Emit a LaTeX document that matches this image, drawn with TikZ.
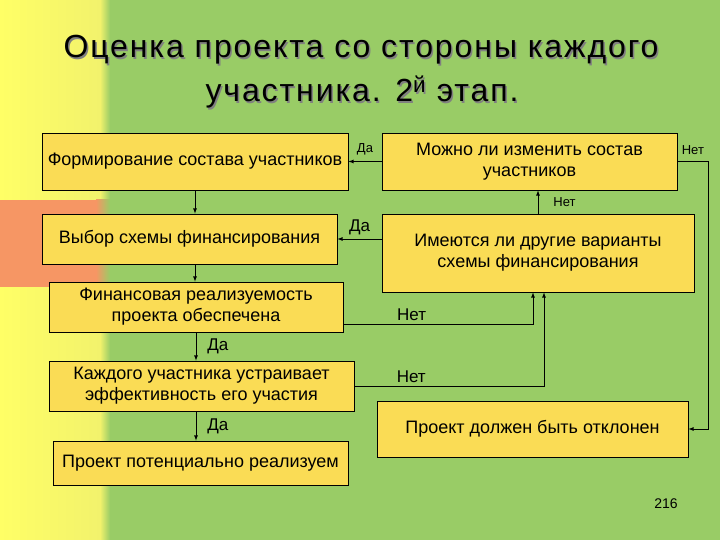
\documentclass[tikz,border=0pt]{standalone}
\usepackage{fontspec}
\setmainfont{Liberation Sans}
\newfontfamily\titlefont[LetterSpace=6]{Liberation Sans}
\usepackage{tikz}

\definecolor{slidegreen}{RGB}{153,204,102}
\definecolor{stripyellow}{RGB}{255,255,102}
\definecolor{stripyellowb}{RGB}{242,242,108}
\definecolor{barorange}{RGB}{246,150,100}
\definecolor{boxfill}{RGB}{250,220,85}

\tikzset{
  stepbox/.style={draw, fill=boxfill, line width=0.8pt, align=center, inner sep=2pt,
    font=\fontsize{18}{21}\selectfont},
  answ/.style={font=\fontsize{17}{20}\selectfont, inner sep=1pt},
  answsmall/.style={font=\fontsize{13}{15}\selectfont, inner sep=1pt},
  link/.style={-latex, line width=0.8pt},
  heading/.style={anchor=base, font=\titlefont\fontsize{32}{40}\selectfont},
}

\begin{document}
\begin{tikzpicture}[x=1pt, y=-1pt]
        \useasboundingbox (0,0) rectangle (720,540);

        % background of the slide
        \fill[slidegreen] (0,0) rectangle (720,540);
        \shade[left color=stripyellow, right color=stripyellowb] (0,0) rectangle (100,540);
        \shade[left color=stripyellowb, right color=slidegreen] (100,0) rectangle (110,540);
        \fill[barorange] (0,200) rectangle (96,287);
        \shade[left color=barorange, right color=slidegreen] (96,200) rectangle (110,287);

        % title with its shadow
        \node[heading, gray] at (362.5,59.5) {Оценка проекта со стороны каждого};
        \node[heading] (title1) at (361,58) {Оценка проекта со стороны каждого};
        \node[heading, gray] at (363.5,103.5) {участника. 2\textsuperscript{й} этап.};
        \node[heading] (title2) at (362,102) {участника. 2\textsuperscript{й} этап.};

        % left column
        \node[stepbox, minimum width=306pt, minimum height=57pt] (formir) at (195,161.5) {Формирование состава участников};
        \node[stepbox, minimum width=295pt, minimum height=50pt] (vybor) at (189.5,239) {Выбор схемы финансирования};
        \node[stepbox, minimum width=294pt, minimum height=50pt] (finreal) at (196,307) {Финансовая реализуемость\\проекта обеспечена};
        \node[stepbox, minimum width=305pt, minimum height=50pt] (kazhd) at (201.5,386) {Каждого участника устраивает\\эффективность его участия};
        \node[stepbox, minimum width=295pt, minimum height=44pt] (potenc) at (200.5,463) {Проект потенциально реализуем};

        % right column
        \node[stepbox, minimum width=295pt, minimum height=57pt] (mozhno) at (529.5,161.5) {Можно ли изменить состав\\участников};
        \node[stepbox, minimum width=312pt, minimum height=78pt] (imeyut) at (538,253) {Имеются ли другие варианты\\схемы финансирования};
        \node[stepbox, minimum width=311pt, minimum height=56pt] (otkl) at (532.5,429) {Проект должен быть отклонен};

        % down the left column
        \draw[link] (formir.south) -- (formir.south |- vybor.north);
        \draw[link] (formir.south |- vybor.south) -- (formir.south |- finreal.north);
        \draw[link] (finreal.south) -- node[answ, right, xshift=10pt] {Да} (finreal.south |- kazhd.north);
        \draw[link] (finreal.south |- kazhd.south) -- node[answ, right, xshift=10pt] {Да} (finreal.south |- potenc.north);

        % answers of the right column
        \draw[link] (mozhno.west) -- node[answsmall, above, yshift=5pt] {Да} (formir.east);
        \draw[link] (imeyut.west |- vybor.east) -- node[answ, above, yshift=3pt] {Да} (vybor.east);
        \draw[link] (imeyut.north) -- node[answsmall, right, xshift=14pt] {Нет} (imeyut.north |- mozhno.south);
        \draw[link] (mozhno.east) -- node[answsmall, above, yshift=5pt] {Нет} ++(31,0) |- (otkl.east);

        % back up to the financing question
        \draw[link] ([yshift=-17pt]finreal.east) -| node[answ, above, pos=0.18, yshift=2pt] {Нет} ([xshift=-5pt]imeyut.south);
        \draw[link] (kazhd.east) -| node[answ, above, pos=0.15, yshift=2pt] {Нет} ([xshift=6pt]imeyut.south);

        % page number
        \node[font=\fontsize{14}{16}\selectfont] (pagenum) at (666,504) {216};
    \end{tikzpicture}
\end{document}
